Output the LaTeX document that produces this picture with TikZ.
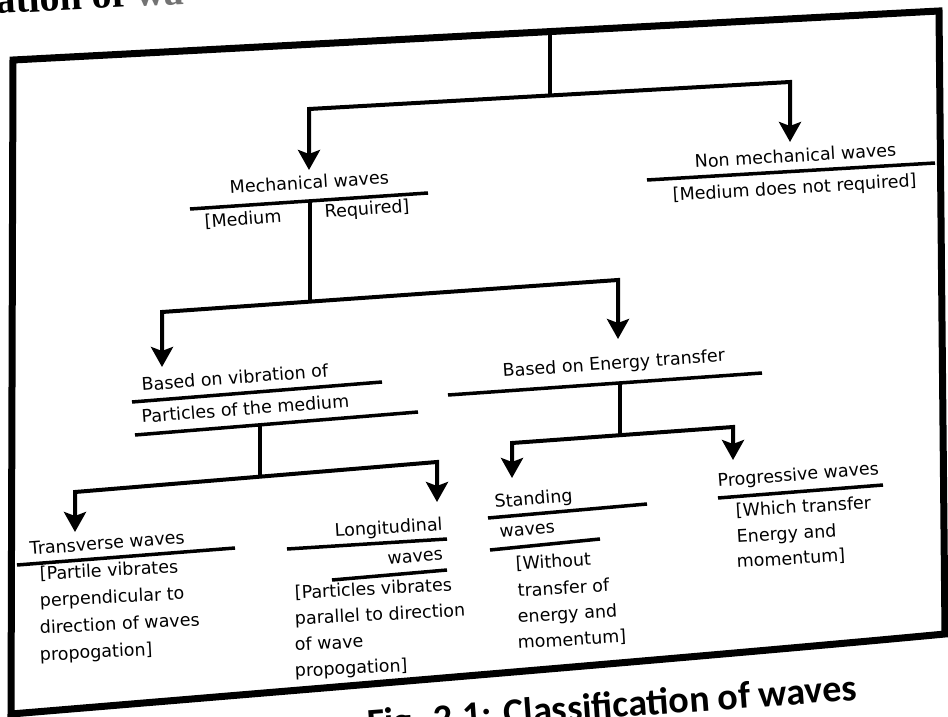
\documentclass[tikz,border=0pt]{standalone}
\usepackage{fontspec}
\setmainfont{DejaVu Sans}
\newfontfamily\capfont{Carlito}
\newfontfamily\titfont{Liberation Serif}
\usetikzlibrary{arrows.meta}
\begin{document}
\begin{tikzpicture}[x=1pt,y=-1pt,
  >={Stealth[length=20pt,width=22pt,inset=4pt]},
  frame/.style={line width=7pt,line join=miter},
  conn/.style={line width=4pt,line join=miter},
  uline/.style={line width=3.5pt},
  lbl/.style={anchor=base west,inner sep=0pt,font=\fontsize{17.5}{26.5}\selectfont},
]
\useasboundingbox (0,0) rectangle (948,717);
\clip (0,0) rectangle (948,717);
\fill[white] (0,0) rectangle (948,717);

% heading remnant and frame
\node[anchor=base west,inner sep=0pt,font=\titfont\bfseries\fontsize{40}{44}\selectfont,rotate=3] (title) at (-4,14) {ation of \textcolor{black!55}{wa}};
\draw[frame] (13,60) -- (939,11) -- (945,634) .. controls (700,657) and (300,690) .. (11,714) -- cycle;

% labels
\node[lbl,rotate=3.8] (mech) at (230,194) {Mechanical waves};
\node[lbl,rotate=4.2] (medium) at (205,228) {[Medium};
\node[lbl,rotate=4.2] (req) at (325,218) {Required]};
\node[lbl,rotate=3.4] (nonmech) at (695,168) {Non mechanical waves};
\node[lbl,rotate=3.4] (nonreq) at (673,201) {[Medium does not required]};
\node[lbl,rotate=4.4] (vib1) at (142,391) {Based on vibration of};
\node[lbl,rotate=4.4] (vib2) at (142,423) {Particles of the medium};
\node[lbl,rotate=4.0] (energy) at (503,377) {Based on Energy transfer};
\node[lbl,rotate=4.3] (trans) at (30,555) {Transverse waves};
\node[lbl,rotate=3] (transd1) at (40,580) {[Partile vibrates};
\node[lbl,rotate=3] (transd2) at (40,607) {perpendicular to};
\node[lbl,rotate=3] (transd3) at (40,634) {direction of waves};
\node[lbl,rotate=3] (transd4) at (40,661) {propogation]};
\node[lbl,rotate=3.6] (long) at (335,537) {Longitudinal};
\node[lbl,rotate=5] (longw) at (388,565) {waves};
\node[lbl,rotate=3] (longd1) at (295,599) {[Particles vibrates};
\node[lbl,rotate=3] (longd2) at (295,625) {parallel to direction};
\node[lbl,rotate=3] (longd3) at (295,651) {of wave};
\node[lbl,rotate=3] (longd4) at (295,677) {propogation]};
\node[lbl,rotate=5] (stand) at (495,508) {Standing};
\node[lbl,rotate=5] (standw) at (500,538) {waves};
\node[lbl,rotate=3.5] (standd1) at (516,570) {[Without};
\node[lbl,rotate=3.5] (standd2) at (518,597) {transfer of};
\node[lbl,rotate=3.5] (standd3) at (518,623) {energy and};
\node[lbl,rotate=3.5] (standd4) at (518,649) {momentum]};
\node[lbl,rotate=4.5] (prog) at (718,487) {Progressive waves};
\node[lbl,rotate=3.5] (progd1) at (736,517) {[Which transfer};
\node[lbl,rotate=3.5] (progd2) at (737,543) {Energy and};
\node[lbl,rotate=3.5] (progd3) at (737,568) {momentum]};
\node[anchor=base west,inner sep=0pt,font=\capfont\bfseries\fontsize{38}{40}\selectfont,rotate=4.2] (cap) at (368,736) {Fig. 2.1: Classification of waves};

% underlines
\draw[uline] (190,209) -- (428,193);
\draw[uline] (647,180) -- (935,163);
\draw[uline] (132,402) -- (382,382);
\draw[uline] (135,435) -- (418,412);
\draw[uline] (448,395) -- (762,373);
\draw[uline] (17,565) -- (235,548);
\draw[uline] (287,549) -- (447,539);
\draw[uline] (332,580) -- (447,570);
\draw[uline] (488,518) -- (647,504);
\draw[uline] (490,550) -- (600,539);
\draw[uline] (718,498) -- (883,485);

% junction coordinates
\coordinate (t0) at (550,31);  \coordinate (t1) at (550,96);
\coordinate (tL) at (309,109); \coordinate (tR) at (790,82);
\coordinate (tLa) at (309,170); \coordinate (tRa) at (790,142);
\coordinate (m0) at (310,201); \coordinate (m1) at (310,302);
\coordinate (mL) at (162,312); \coordinate (mR) at (618,280);
\coordinate (mLa) at (162,367); \coordinate (mRa) at (618,339);
\coordinate (v0) at (260,425); \coordinate (v1) at (260,477);
\coordinate (vL) at (75,492);  \coordinate (vR) at (437,462);
\coordinate (vLa) at (75,532); \coordinate (vRa) at (437,502);
\coordinate (e0) at (620,383); \coordinate (e1) at (620,435);
\coordinate (eL) at (512,443); \coordinate (eR) at (733,427);
\coordinate (eLa) at (512,478); \coordinate (eRa) at (733,460);

% connectors
\draw[conn] (t0) -- (t1);
\draw[conn,<->] (tLa) -- (tL) -- (tR) -- (tRa);
\draw[conn] (m0) -- (m1);
\draw[conn,<->] (mLa) -- (mL) -- (mR) -- (mRa);
\draw[conn] (v0) -- (v1);
\draw[conn,<->] (vLa) -- (vL) -- (vR) -- (vRa);
\draw[conn] (e0) -- (e1);
\draw[conn,<->] (eLa) -- (eL) -- (eR) -- (eRa);
\end{tikzpicture}
\end{document}
